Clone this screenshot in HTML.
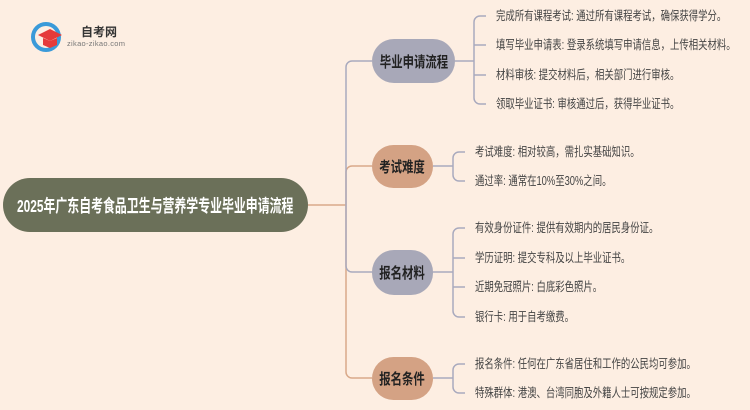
<!DOCTYPE html>
<html><head><meta charset="utf-8"><style>
body{margin:0;width:750px;height:410px;background:#fdeee2;overflow:hidden;position:relative;font-family:"Liberation Sans","Noto Sans CJK SC",sans-serif}
.n{position:absolute;display:flex;align-items:center;justify-content:center;border-radius:22px;font-weight:bold;color:#222;font-size:15px;white-space:nowrap}
.n span{display:inline-block;transform:scaleX(0.76)}
.t{position:absolute;font-size:12.5px;color:#444;white-space:nowrap;line-height:16px;transform:scaleX(0.75);transform-origin:left center}
</style></head><body>
<svg width="750" height="410" style="position:absolute;left:0;top:0" fill="none" stroke-width="1.5">
<g stroke="#d9a98a">
<path d="M308 205H346"/>
<path d="M346 205V372a6 6 0 0 0 6 6H372"/>
<path d="M346 205V172a6 6 0 0 1 6-6H372"/>
</g>
<g stroke="#a9aabe">
<path d="M346 205V67a6 6 0 0 1 6-6H372"/>
<path d="M346 205V266a6 6 0 0 0 6 6H372"/>
<path d="M455 61H474 M474 22a6 6 0 0 1 6-6H486 M474 22V98a6 6 0 0 0 6 6H486 M474 45H486 M474 75H486"/>
<path d="M433 166H453 M453 158a6 6 0 0 1 6-6H465 M453 158V175a6 6 0 0 0 6 6H465"/>
<path d="M433 272H453 M453 234a6 6 0 0 1 6-6H465 M453 234V311a6 6 0 0 0 6 6H465 M453 258H465 M453 287H465"/>
<path d="M433 378H453 M453 370a6 6 0 0 1 6-6H465 M453 370V387a6 6 0 0 0 6 6H465"/>
</g>
<circle cx="46" cy="37" r="13" stroke="#3a9ad9" stroke-width="4" fill="none"/>
<path d="M38 35L50 29L62 35L50 41Z" fill="#e53a3a" stroke="none"/>
<path d="M43 38V45L50 48L57 45V38L50 41Z" fill="#e53a3a" stroke="none"/>
</svg>
<div style="position:absolute;left:81px;top:23px;font-size:12px;font-weight:bold;color:#333">自考网</div>
<div style="position:absolute;left:67px;top:39px;font-size:7.5px;color:#777;letter-spacing:0.3px">zikao-zikao.com</div>
<div class="n" style="left:3px;top:178px;width:305px;height:54px;border-radius:27px;background:#6b7059;color:#fff;font-size:17.5px"><span style="transform:scaleX(0.68)">2025年广东自考食品卫生与营养学专业毕业申请流程</span></div>
<div class="n" style="left:372px;top:39px;width:83px;height:44px;background:#a8a8b8"><span>毕业申请流程</span></div>
<div class="n" style="left:372px;top:145px;width:61px;height:43px;background:#d4a284"><span>考试难度</span></div>
<div class="n" style="left:372px;top:250px;width:61px;height:45px;background:#a8a8b8"><span>报名材料</span></div>
<div class="n" style="left:372px;top:357px;width:61px;height:43px;background:#d4a284"><span>报名条件</span></div>
<div class="t" style="left:496px;top:8px">完成所有课程考试: 通过所有课程考试，确保获得学分。</div>
<div class="t" style="left:496px;top:37px">填写毕业申请表: 登录系统填写申请信息，上传相关材料。</div>
<div class="t" style="left:496px;top:67px">材料审核: 提交材料后，相关部门进行审核。</div>
<div class="t" style="left:496px;top:96px">领取毕业证书: 审核通过后，获得毕业证书。</div>
<div class="t" style="left:475px;top:144px">考试难度: 相对较高，需扎实基础知识。</div>
<div class="t" style="left:475px;top:173px">通过率: 通常在10%至30%之间。</div>
<div class="t" style="left:475px;top:220px">有效身份证件: 提供有效期内的居民身份证。</div>
<div class="t" style="left:475px;top:250px">学历证明: 提交专科及以上毕业证书。</div>
<div class="t" style="left:475px;top:279px">近期免冠照片: 白底彩色照片。</div>
<div class="t" style="left:475px;top:309px">银行卡: 用于自考缴费。</div>
<div class="t" style="left:475px;top:356px">报名条件: 任何在广东省居住和工作的公民均可参加。</div>
<div class="t" style="left:475px;top:385px">特殊群体: 港澳、台湾同胞及外籍人士可按规定参加。</div>
</body></html>
